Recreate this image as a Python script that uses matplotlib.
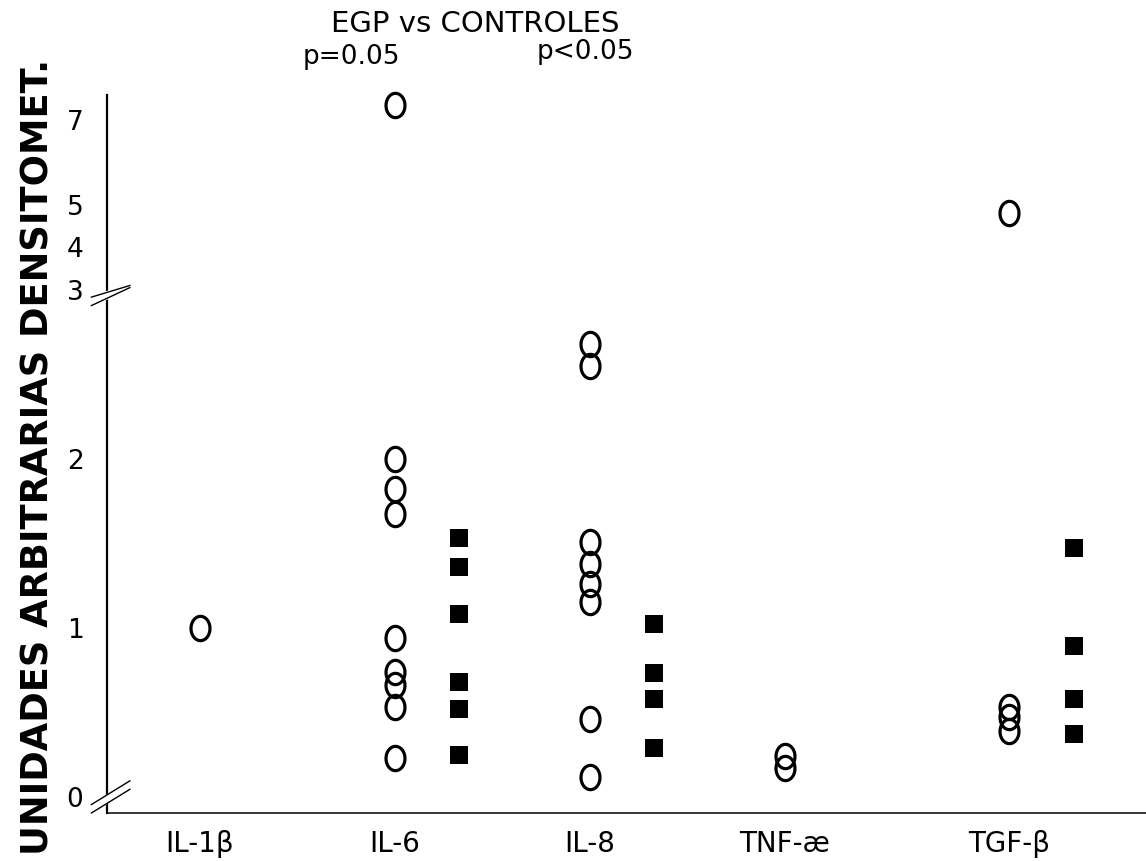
# Citoquinas EGP vs controles - unidades arbitrarias densitometricas
import matplotlib
matplotlib.use('Agg')
import matplotlib.pyplot as plt
import numpy as np

# Data
categories = ['IL-1β', 'IL-6', 'IL-8', 'TNF-æ', 'TGF-β']
egp_values = [
    [1.0],
    [7.37, 2.0, 1.82, 1.67, 0.94, 0.74, 0.66, 0.53, 0.23],
    [2.68, 2.55, 1.51, 1.38, 1.26, 1.15, 0.46, 0.12],
    [0.24, 0.17],
    [4.8, 0.53, 0.47, 0.39],
]
control_values = [
    [],
    [1.53, 1.36, 1.08, 0.68, 0.52, 0.25],
    [1.02, 0.73, 0.58, 0.29],
    [],
    [1.47, 0.89, 0.58, 0.37],
]
ytick_values = [0, 1, 2, 3, 4, 5, 7]

# Layout (category positions on the x axis)
cat_x = [0, 1, 2, 3, 4.15]
ctrl_offset = 0.33

# Broken y axis: 0-3 linear, above 3 compressed
BREAK = 3.0
UPPER = 0.25

def fwd(v):
    v = np.asarray(v, dtype=float)
    return np.where(v <= BREAK, v, BREAK + (v - BREAK) * UPPER)

def inv(t):
    t = np.asarray(t, dtype=float)
    return np.where(t <= BREAK, t, BREAK + (t - BREAK) / UPPER)

fig = plt.figure(figsize=(11.46, 8.61), dpi=100)
ax = fig.add_axes([107/1146, 48/861, 1 - 107/1146, 718/861])
ax.set_yscale('function', functions=(fwd, inv))
ax.set_ylim(-0.095, 7.6)
ax.set_xlim(-0.477, 4.851)

# open "O" marker, taller than wide
th = np.linspace(0, 2*np.pi, 60)
oval = np.column_stack([0.78*np.cos(th), np.sin(th)])

for i, vals in enumerate(egp_values):
    ax.plot([cat_x[i]]*len(vals), vals, linestyle='None', marker=oval,
            ms=17.5, mfc='none', mec='black', mew=2.3, clip_on=False)
for i, vals in enumerate(control_values):
    if vals:
        ax.plot([cat_x[i] + ctrl_offset]*len(vals), vals, linestyle='None',
                marker='s', ms=12.5, color='black', mew=0)

# Axes styling
ax.spines['top'].set_visible(False)
ax.spines['right'].set_visible(False)
ax.spines['left'].set_linewidth(1.6)
ax.spines['bottom'].set_linewidth(1.1)
ax.set_yticks(ytick_values)
ax.set_yticklabels([str(v) for v in ytick_values], fontsize=19)
ax.tick_params(axis='y', length=0, pad=17)
ax.set_xticks(cat_x)
ax.set_xticklabels(categories, fontsize=20)
ax.tick_params(axis='x', length=0, pad=12)

# Axis break marks at 0 and 3
trans = ax.get_yaxis_transform()
for yb in [0.0, 3.0]:
    ax.plot([-0.015, 0.022], [yb - 0.07, yb + 0.07], color='white', lw=6,
            transform=trans, clip_on=False, zorder=5)
    for dy in (-0.025, 0.025):
        ax.plot([-0.015, 0.022], [yb - 0.07 + dy, yb + 0.07 + dy], color='black',
                lw=1.0, transform=trans, clip_on=False, zorder=6)

# Labels and annotations
fig.text(38/1146, 1 - 457/861, 'UNIDADES ARBITRARIAS DENSITOMET.', rotation=90,
         fontsize=26.5, fontweight='bold', ha='center', va='center')
fig.text(475/1146, 1 - 24/861, 'EGP vs CONTROLES', fontsize=21, ha='center', va='center')
fig.text(351/1146, 1 - 57/861, 'p=0.05', fontsize=19, ha='center', va='center')
fig.text(585/1146, 1 - 52/861, 'p<0.05', fontsize=19, ha='center', va='center')

fig.savefig('out.png', dpi=100)
